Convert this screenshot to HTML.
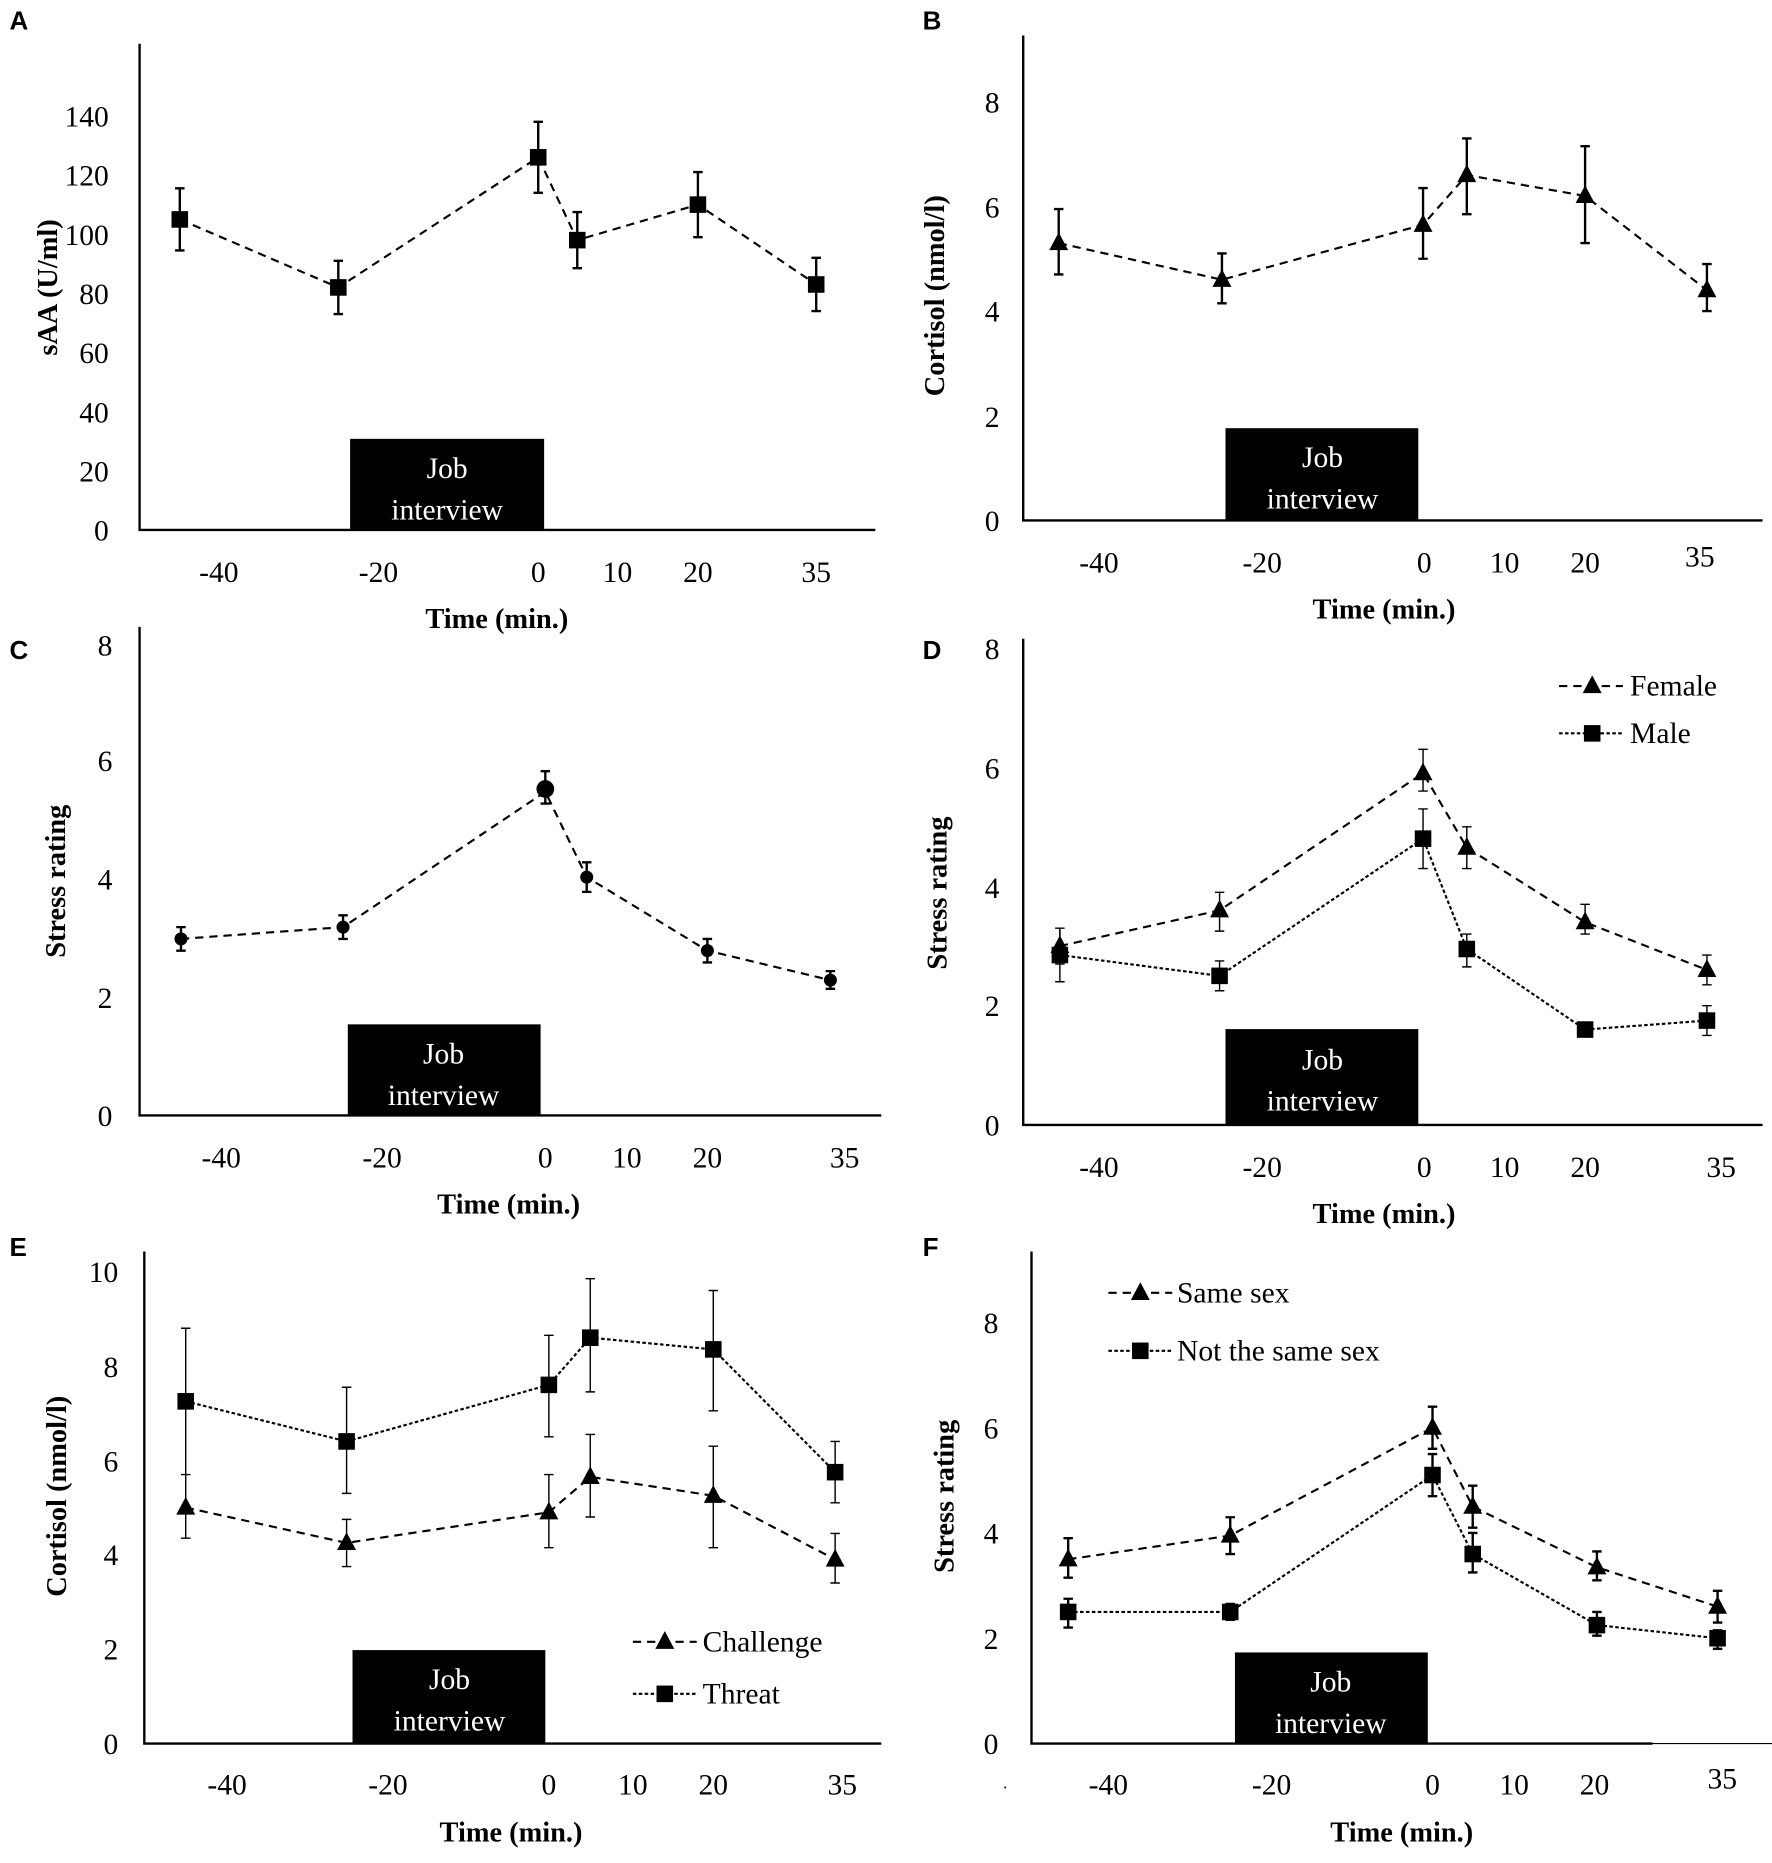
<!DOCTYPE html>
<html><head><meta charset="utf-8"><style>
html,body{margin:0;padding:0;background:#fff;}
svg{display:block;}
text{font-family:"Liberation Serif",serif;fill:#000;}
.t{font-size:25px;text-anchor:end;}
.x{font-size:25px;text-anchor:middle;}
.b{font-size:24px;font-weight:bold;text-anchor:middle;}
.L{font-family:"Liberation Sans",sans-serif;font-size:22px;font-weight:bold;}
.w{fill:#fff;font-size:25px;text-anchor:middle;}
.lg{font-size:25px;}
.ax{stroke:#000;stroke-width:2;fill:none;}
.d1{stroke:#000;stroke-width:1.8;fill:none;stroke-dasharray:7,5;}
.d2{stroke:#000;stroke-width:1.8;fill:none;stroke-dasharray:3,2;}
.e{stroke:#000;stroke-width:2;fill:none;}
.ef{stroke:#000;stroke-width:1.2;fill:none;}
</style></head><body>
<svg width="1772" height="1863" viewBox="0 0 1498 1575" preserveAspectRatio="none" xmlns="http://www.w3.org/2000/svg">
<defs>
<rect id="sq" x="-7" y="-7" width="14" height="14" fill="#000"/>
<polygon id="tr" points="0,-9 8,6 -8,6" fill="#000"/>
<circle id="ci" r="5.5" fill="#000"/>
</defs>

<!-- Panel A -->
<text class="L" x="8" y="25">A</text>
<path class="ax" d="M118 37 V448 H740"/>
<g>
<text class="t" x="92" y="457">0</text><text class="t" x="92" y="407">20</text><text class="t" x="92" y="357">40</text><text class="t" x="92" y="307">60</text><text class="t" x="92" y="257">80</text><text class="t" x="92" y="207">100</text><text class="t" x="92" y="157">120</text><text class="t" x="92" y="107">140</text>
</g>
<g><text class="x" x="185" y="492">-40</text><text class="x" x="320" y="492">-20</text><text class="x" x="455" y="492">0</text><text class="x" x="522" y="492">10</text><text class="x" x="590" y="492">20</text><text class="x" x="690" y="492">35</text></g>
<text class="b" x="420" y="531">Time (min.)</text>
<text class="b" transform="translate(48,243) rotate(-90)">sAA (U/ml)</text>
<rect x="296" y="371" width="164" height="77" fill="#000"/>
<text class="w" x="378" y="404">Job</text><text class="w" x="378" y="439">interview</text>
<path class="d1" d="M152 185.5 L286 243 L455 133 L488 203 L590 173 L690 240.5"/>
<path class="e" d="M152 211.75V159.25M148 211.75h8M148 159.25h8 M286 265.5V220.5M282 265.5h8M282 220.5h8 M455 163V103M451 163h8M451 103h8 M488 226.75V179.25M484 226.75h8M484 179.25h8 M590 200.5V145.5M586 200.5h8M586 145.5h8 M690 263V218M686 263h8M686 218h8"/>
<use href="#sq" x="152" y="185.5"/><use href="#sq" x="286" y="243"/><use href="#sq" x="455" y="133"/><use href="#sq" x="488" y="203"/><use href="#sq" x="590" y="173"/><use href="#sq" x="690" y="240.5"/>

<!-- Panel B -->
<text class="L" x="780" y="25">B</text>
<path class="ax" d="M865 30 V440 H1490"/>
<g><text class="t" x="845" y="449">0</text><text class="t" x="845" y="361">2</text><text class="t" x="845" y="272">4</text><text class="t" x="845" y="184">6</text><text class="t" x="845" y="95">8</text></g>
<g><text class="x" x="929" y="484">-40</text><text class="x" x="1067" y="484">-20</text><text class="x" x="1204" y="484">0</text><text class="x" x="1272" y="484">10</text><text class="x" x="1340" y="484">20</text><text class="x" x="1437" y="479">35</text></g>
<text class="b" x="1170" y="523">Time (min.)</text>
<text class="b" transform="translate(798,250) rotate(-90)">Cortisol (nmol/l)</text>
<rect x="1036" y="362" width="163" height="78" fill="#000"/>
<text class="w" x="1118" y="395">Job</text><text class="w" x="1118" y="430">interview</text>
<path class="d1" d="M895 205.5 L1033 236.5 L1203 190 L1240 148 L1340 165.65 L1443 245.3"/>
<path class="e" d="M895 232V176.7M891 232h8M891 176.7h8 M1033 256.4V214.3M1029 256.4h8M1029 214.3h8 M1203 218.75V159M1199 218.75h8M1199 159h8 M1240 181.1V117M1236 181.1h8M1236 117h8 M1340 205.5V123.6M1336 205.5h8M1336 123.6h8 M1443 263V223.2M1439 263h8M1439 223.2h8"/>
<use href="#tr" x="895" y="205.5"/><use href="#tr" x="1033" y="236.5"/><use href="#tr" x="1203" y="190"/><use href="#tr" x="1240" y="148"/><use href="#tr" x="1340" y="165.65"/><use href="#tr" x="1443" y="245.3"/>

<!-- Panel C -->
<text class="L" x="8" y="557">C</text>
<path class="ax" d="M118 530 V943 H745"/>
<g><text class="t" x="95" y="952">0</text><text class="t" x="95" y="852">2</text><text class="t" x="95" y="752">4</text><text class="t" x="95" y="652">6</text><text class="t" x="95" y="554">8</text></g>
<g><text class="x" x="187" y="987">-40</text><text class="x" x="323" y="987">-20</text><text class="x" x="461" y="987">0</text><text class="x" x="530" y="987">10</text><text class="x" x="598" y="987">20</text><text class="x" x="714" y="987">35</text></g>
<text class="b" x="430" y="1026">Time (min.)</text>
<text class="b" transform="translate(55,745) rotate(-90)">Stress rating</text>
<rect x="294" y="866" width="163" height="77" fill="#000"/>
<text class="w" x="375" y="899">Job</text><text class="w" x="375" y="934">interview</text>
<path class="d1" d="M153 793.75 L290 783.8 L461 669.4 L496 741.5 L598 803.7 L702 828.6"/>
<path class="e" d="M153 803.7V783.8M149 803.7h8M149 783.8h8 M290 793.75V773.85M286 793.75h8M286 773.85h8 M461 679.3V652M457 679.3h8M457 652h8 M496 754V729M492 754h8M492 729h8 M598 813.65V793.75M594 813.65h8M594 793.75h8 M702 836V821M698 836h8M698 821h8"/>
<use href="#ci" x="153" y="793.75"/><use href="#ci" x="290" y="783.8"/><circle cx="461" cy="667" r="7.5"/><use href="#ci" x="496" y="741.5"/><use href="#ci" x="598" y="803.7"/><use href="#ci" x="702" y="828.6"/>

<!-- Panel D -->
<text class="L" x="780" y="557">D</text>
<path class="ax" d="M865 540 V951 H1490"/>
<g><text class="t" x="845" y="960">0</text><text class="t" x="845" y="859">2</text><text class="t" x="845" y="759">4</text><text class="t" x="845" y="658">6</text><text class="t" x="845" y="557">8</text></g>
<g><text class="x" x="929" y="995">-40</text><text class="x" x="1067" y="995">-20</text><text class="x" x="1204" y="995">0</text><text class="x" x="1272" y="995">10</text><text class="x" x="1340" y="995">20</text><text class="x" x="1455" y="995">35</text></g>
<text class="b" x="1170" y="1034">Time (min.)</text>
<text class="b" transform="translate(800,755) rotate(-90)">Stress rating</text>
<rect x="1036" y="870" width="163" height="81" fill="#000"/>
<text class="w" x="1118" y="904">Job</text><text class="w" x="1118" y="939">interview</text>
<path class="d1" d="M896 799.8 L1031 769.6 L1203 653.6 L1240 716.6 L1340 779.6 L1443 820"/>
<path class="d2" d="M896 807.4 L1031 825 L1203 709 L1240 802.3 L1340 870.4 L1443 862.8"/>
<path class="ef" d="M896 815V784.7M892 815h8M892 784.7h8 M1031 787.2V754.4M1027 787.2h8M1027 754.4h8 M1203 668.8V633.5M1199 668.8h8M1199 633.5h8 M1240 734.3V699M1236 734.3h8M1236 699h8 M1340 789.7V764.5M1336 789.7h8M1336 764.5h8 M1443 832.6V807.4M1439 832.6h8M1439 807.4h8"/>
<path class="ef" d="M896 830V784.7M892 830h8 M1031 837.6V812.4M1027 837.6h8M1027 812.4h8 M1203 734.3V683.9M1199 734.3h8M1199 683.9h8 M1240 817.4V789.7M1236 817.4h8M1236 789.7h8 M1340 872.9V865.3 M1443 875.4V850.2M1439 875.4h8M1439 850.2h8"/>
<use href="#tr" x="896" y="799.8"/><use href="#tr" x="1031" y="769.6"/><use href="#tr" x="1203" y="653.6"/><use href="#tr" x="1240" y="716.6"/><use href="#tr" x="1340" y="779.6"/><use href="#tr" x="1443" y="820"/>
<use href="#sq" x="896" y="807.4"/><use href="#sq" x="1031" y="825"/><use href="#sq" x="1203" y="709"/><use href="#sq" x="1240" y="802.3"/><use href="#sq" x="1340" y="870.4"/><use href="#sq" x="1443" y="862.8"/>
<path class="d1" d="M1318 580 H1372"/><use href="#tr" x="1346" y="580"/><text class="lg" x="1378" y="588">Female</text>
<path class="d2" d="M1318 620 H1372"/><use href="#sq" x="1346" y="620"/><text class="lg" x="1378" y="628">Male</text>

<!-- Panel E -->
<text class="L" x="8" y="1062">E</text>
<path class="ax" d="M122 1058 V1474 H745"/>
<g><text class="t" x="100" y="1483">0</text><text class="t" x="100" y="1403">2</text><text class="t" x="100" y="1323">4</text><text class="t" x="100" y="1244">6</text><text class="t" x="100" y="1164">8</text><text class="t" x="100" y="1084">10</text></g>
<g><text class="x" x="192" y="1517">-40</text><text class="x" x="328" y="1517">-20</text><text class="x" x="464" y="1517">0</text><text class="x" x="535" y="1517">10</text><text class="x" x="603" y="1517">20</text><text class="x" x="712" y="1517">35</text></g>
<text class="b" x="432" y="1557">Time (min.)</text>
<text class="b" transform="translate(56,1265) rotate(-90)">Cortisol (nmol/l)</text>
<rect x="298" y="1395" width="163" height="79" fill="#000"/>
<text class="w" x="380" y="1428">Job</text><text class="w" x="380" y="1463">interview</text>
<path class="d2" d="M157 1184.7 L293 1218.6 L464 1170.8 L499 1130.9 L603 1140.8 L706 1244.6"/>
<path class="d1" d="M157 1274.5 L293 1304.4 L464 1278.5 L499 1248.6 L603 1264.5 L706 1318.4"/>
<path class="ef" d="M157 1246.6V1122.9M153 1122.9h8 M293 1262.5V1172.8M289 1262.5h8M289 1172.8h8 M464 1214.7V1128.9M460 1214.7h8M460 1128.9h8 M499 1176.7V1081M495 1176.7h8M495 1081h8 M603 1192.7V1091M599 1192.7h8M599 1091h8 M706 1270.5V1218.6M702 1270.5h8M702 1218.6h8"/>
<path class="ef" d="M157 1300.4V1246.6M153 1300.4h8M153 1246.6h8 M293 1324.4V1284.5M289 1324.4h8M289 1284.5h8 M464 1308.4V1246.6M460 1308.4h8M460 1246.6h8 M499 1282.5V1212.7M495 1282.5h8M495 1212.7h8 M603 1308.4V1222.6M599 1308.4h8M599 1222.6h8 M706 1338.3V1296.4M702 1338.3h8M702 1296.4h8"/>
<use href="#sq" x="157" y="1184.7"/><use href="#sq" x="293" y="1218.6"/><use href="#sq" x="464" y="1170.8"/><use href="#sq" x="499" y="1130.9"/><use href="#sq" x="603" y="1140.8"/><use href="#sq" x="706" y="1244.6"/>
<use href="#tr" x="157" y="1274.5"/><use href="#tr" x="293" y="1304.4"/><use href="#tr" x="464" y="1278.5"/><use href="#tr" x="499" y="1248.6"/><use href="#tr" x="603" y="1264.5"/><use href="#tr" x="706" y="1318.4"/>
<path class="d1" d="M535 1388 H589"/><use href="#tr" x="562" y="1388"/><text class="lg" x="594" y="1396">Challenge</text>
<path class="d2" d="M535 1432 H589"/><use href="#sq" x="562" y="1432"/><text class="lg" x="594" y="1440">Threat</text>

<!-- Panel F -->
<text class="L" x="780" y="1062">F</text>
<path class="ax" d="M872 1058 V1474 H1397"/><path d="M1397 1474 H1498" stroke="#000" stroke-width="1"/>
<g><text class="t" x="844" y="1483">0</text><text class="t" x="844" y="1394">2</text><text class="t" x="844" y="1305">4</text><text class="t" x="844" y="1216">6</text><text class="t" x="844" y="1127">8</text></g>
<g><text class="x" x="937" y="1517">-40</text><text class="x" x="1075" y="1517">-20</text><text class="x" x="1211" y="1517">0</text><text class="x" x="1280" y="1517">10</text><text class="x" x="1348" y="1517">20</text><text class="x" x="1456" y="1512">35</text></g>
<text class="b" x="1185" y="1557">Time (min.)</text>
<text class="b" transform="translate(806,1265) rotate(-90)">Stress rating</text>
<rect x="1044" y="1397" width="163" height="77" fill="#000"/>
<text class="w" x="1125" y="1430">Job</text><text class="w" x="1125" y="1465">interview</text>
<path class="d1" d="M903 1318.25 L1040 1298.2 L1211 1207 L1245 1273.75 L1350 1325 L1452 1358.3"/>
<path class="d2" d="M903 1362.75 L1040 1362.75 L1211 1247 L1245 1313.8 L1350 1373.9 L1452 1385"/>
<path class="e" d="M903 1333.8V1300.4M899 1333.8h8M899 1300.4h8 M1040 1313.8V1282.7M1036 1313.8h8M1036 1282.7h8 M1211 1224.8V1189.2M1207 1224.8h8M1207 1189.2h8 M1245 1291.5V1256M1241 1291.5h8M1241 1256h8 M1350 1336V1311.6M1346 1336h8M1346 1311.6h8 M1452 1371.7V1344.9M1448 1371.7h8M1448 1344.9h8"/>
<path class="e" d="M903 1376V1351.6M899 1376h8M899 1351.6h8 M1040 1369.4V1356M1036 1369.4h8M1036 1356h8 M1211 1264.85V1229.25M1207 1264.85h8M1207 1229.25h8 M1245 1329.4V1296M1241 1329.4h8M1241 1296h8 M1350 1382.8V1362.75M1346 1382.8h8M1346 1362.75h8 M1452 1393.9V1378.3M1448 1393.9h8M1448 1378.3h8"/>
<use href="#tr" x="903" y="1318.25"/><use href="#tr" x="1040" y="1298.2"/><use href="#tr" x="1211" y="1207"/><use href="#tr" x="1245" y="1273.75"/><use href="#tr" x="1350" y="1325"/><use href="#tr" x="1452" y="1358.3"/>
<use href="#sq" x="903" y="1362.75"/><use href="#sq" x="1040" y="1362.75"/><use href="#sq" x="1211" y="1247"/><use href="#sq" x="1245" y="1313.8"/><use href="#sq" x="1350" y="1373.9"/><use href="#sq" x="1452" y="1385"/>
<path class="d1" d="M937 1093 H991"/><use href="#tr" x="964" y="1093"/><text class="lg" x="995" y="1101">Same sex</text>
<path class="d2" d="M937 1142 H991"/><use href="#sq" x="964" y="1142"/><text class="lg" x="995" y="1150">Not the same sex</text>
<text x="848" y="1512" style="font-size:14px">.</text>
</svg>
</body></html>
